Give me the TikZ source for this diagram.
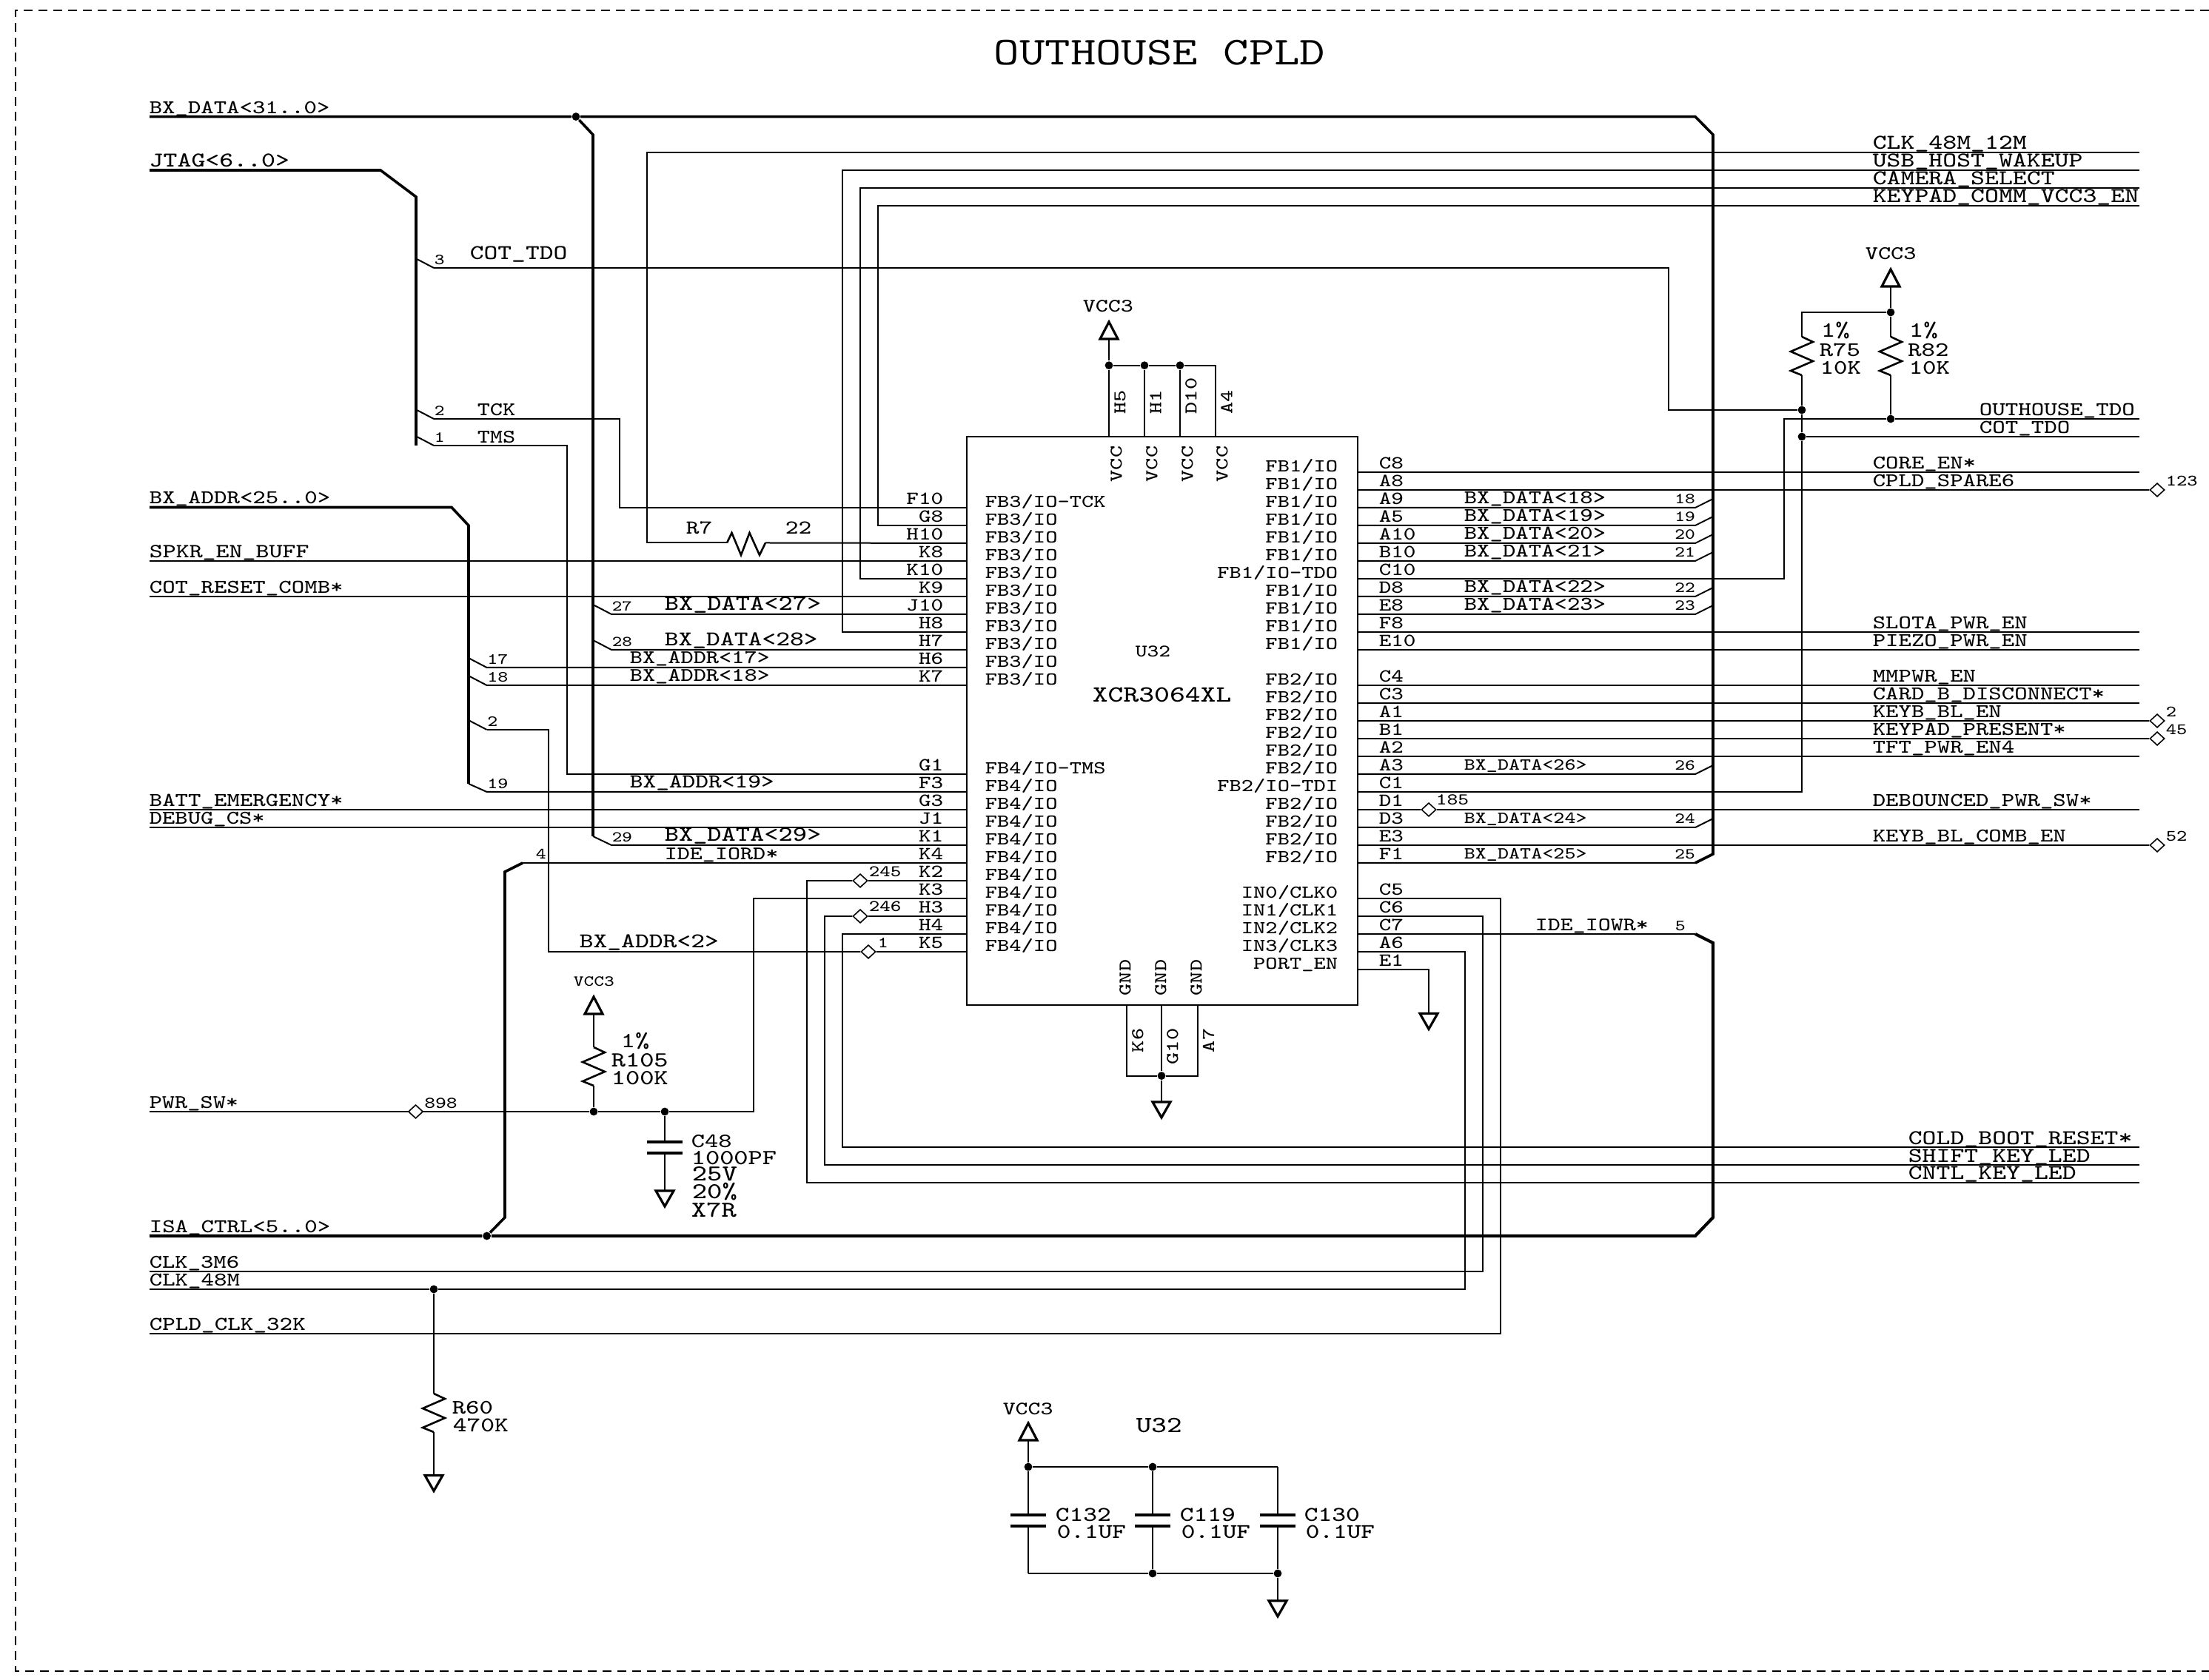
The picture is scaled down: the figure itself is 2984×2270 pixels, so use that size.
\documentclass[tikz,border=0pt]{standalone}
\usepackage{fontspec}
\setmonofont[FakeStretch=1.25]{Latin Modern Mono}
\usetikzlibrary{shapes.geometric}
\tikzset{
  wire/.style={line width=0.5bp},
  bus/.style={line width=0.9bp},
  sym/.style={line width=0.8bp},
  lab/.style={font=\fontsize{#1}{#1}\ttfamily, inner sep=0pt, anchor=base west},
  labr/.style={lab=#1, anchor=base east},
  labv/.style={lab=6.1, rotate=90, anchor=#1},
  jct/.style={circle, fill=black, inner sep=0pt, minimum size=2.7bp},
  probe/.style={diamond, draw, line width=0.4bp, fill=white, inner sep=0pt, minimum width=5bp, minimum height=4.6bp},
  chipbox/.style={draw, line width=0.5bp, inner sep=0pt, outer sep=0pt, minimum width=132bp, minimum height=191.875bp},
  gndsym/.pic={\draw[sym] (-12,0) -- (12,0) -- (0,21) -- cycle;},
  vccsym/.pic={\draw[sym] (-12,0) -- (12,0) -- (0,-23) -- cycle;},
  resv/.pic={\draw[line width=0.65bp] (0,0) -- (15,7) -- (-15,20) -- (15,33) -- (-15,46) -- (0,52);},
  resh/.pic={\draw[line width=0.65bp] (0,0) -- (6.5,-13.5) -- (19,16.5) -- (30.5,-13.5) -- (44,16.5) -- (52,0);},
  capv/.pic={\draw[line width=1bp] (-24,0) -- (24,0) (-24,14.5) -- (24,14.5);},
}
\begin{document}
\begin{tikzpicture}[x=0.25bp,y=-0.25bp]
  \useasboundingbox (0,0) rectangle (2984,2270);
  % Frame
  \coordinate (frTR) at (2984,14);
  \coordinate (frTL) at (21,14);
  \coordinate (frBL) at (21,2258);
  \coordinate (frBR) at (2984,2258);
  \draw[wire, dash pattern=on 3bp off 2bp] (frTR) -- (frTL) -- (frBL) -- (frBR);
  \node[lab=13.42] (title) at (1342,88) {OUTHOUSE CPLD};
  %% Chip U32
  \node[chipbox] (chip) at (1570,973.75) {};
  \node[lab=5.97] (chipRef) at (1533,888) {U32};
  \node[lab=7.88] (chipType) at (1475,949) {XCR3064XL};
  % Pins, left side
  \foreach \pin [count=\i from 0] in {F10,G8,H10,K8,K10,K9,J10,H8,H7,H6,K7} {
    \coordinate (\pin) at (1306,{686+24*\i});
    \node[labr=6.27] (p\pin) at (1275,{682+24*\i}) {\pin};
    \node[lab=6.16] (f\pin) at (1330,{686+24*\i}) {FB3/IO\ifnum\i=0 -TCK\fi};
  }
  \foreach \pin [count=\i from 0] in {G1,F3,G3,J1,K1,K4,K2,K3,H3,H4,K5} {
    \coordinate (\pin) at (1306,{1046+24*\i});
    \node[labr=6.27] (p\pin) at (1275,{1042+24*\i}) {\pin};
    \node[lab=6.16] (f\pin) at (1330,{1046+24*\i}) {FB4/IO\ifnum\i=0 -TMS\fi};
  }
  % Pins, right side
  \foreach \pin [count=\i from 0] in {C8,A8,A9,A5,A10,B10,C10,D8,E8,F8,E10} {
    \coordinate (\pin) at (1834,{638+24*\i});
    \node[lab=6.27] (p\pin) at (1862,{634+24*\i}) {\pin};
    \node[labr=6.16] (f\pin) at (1808,{638+24*\i}) {FB1/IO\ifnum\i=6 -TDO\fi};
  }
  \foreach \pin [count=\i from 0] in {C4,C3,A1,B1,A2,A3,C1,D1,D3,E3,F1} {
    \coordinate (\pin) at (1834,{926+24*\i});
    \node[lab=6.27] (p\pin) at (1862,{922+24*\i}) {\pin};
    \node[labr=6.16] (f\pin) at (1808,{926+24*\i}) {FB2/IO\ifnum\i=6 -TDI\fi};
  }
  \foreach \pin [count=\i from 0] in {C5,C6,C7,A6} {
    \coordinate (\pin) at (1834,{1214+24*\i});
    \node[lab=6.27] (p\pin) at (1862,{1210+24*\i}) {\pin};
    \node[labr=6.16] (f\pin) at (1808,{1214+24*\i}) {IN\i/CLK\i};
  }
  \coordinate (E1) at (1834,1310);
  \node[lab=6.27] (pE1) at (1862,1306) {E1};
  \node[labr=6.16] (fE1) at (1808,1310) {PORT\_EN};
  % Power pins
  \foreach \pin/\px/\tx in {H5/1498/1508,H1/1546/1556,D10/1594/1604,A4/1642/1651} {
    \coordinate (\pin) at (\px,590);
    \node[labv=center] (f\pin) at (\tx,627) {VCC};
    \node[labv=west] (p\pin) at ({\px+15},560) {\pin};
  }
  \foreach \pin/\px/\tx in {K6/1522/1520,G10/1569/1568,A7/1617.6/1616} {
    \coordinate (\pin) at (\px,1357.5);
    \node[labv=center] (f\pin) at (\tx,1321) {GND};
    \node[labv=east] (p\pin) at ({\px+15},1389) {\pin};
  }
  %% Anchor columns
  \coordinate (tapR) at (2290,0);
  \coordinate (tapA) at (657.6,0);
  \coordinate (tapD) at (826,0);
  \coordinate (txtR) at (2529,0);
  \coordinate (txtD) at (1977,0);
  \coordinate (numR) at (2261.5,0);
  \coordinate (prbR) at (2914,0);
  \coordinate (numP) at (2925,0);
  \coordinate (edgeR) at (2890,0);
  %% Nets on the left edge
  \foreach \nm/\yy/\txt/\sz in {BXD/157.6/BX\_DATA<31..0>/6.58,JTG/230/JTAG<6..0>/7.15,
      BXA/685.5/BX\_ADDR<25..0>/6.6,SPK/758/SPKR\_EN\_BUFF/6.8,COT/806/COT\_RESET\_COMB*/6.6,
      BAT/1094/BATT\_EMERGENCY*/6.6,DBG/1118/DEBUG\_CS*/6.55,PWR/1502/PWR\_SW*/6.5,
      ISA/1670/ISA\_CTRL<5..0>/6.6,CM/1718/CLK\_3M6/6.55,CH/1742/CLK\_48M/6.6,
      CK/1801.6/CPLD\_CLK\_32K/6.65} {
    \coordinate (l\nm) at (202,\yy);
    \node[lab=\sz] (n\nm) at (201,{\yy-4.5}) {\txt};
  }
  %% Nets on the right edge, routed ones
  \foreach \nm/\yy/\tx/\txt/\sz in {CLK/206/2529/CLK\_48M\_12M/7.15,USB/230/2529/USB\_HOST\_WAKEUP/7.15,
      CAM/254/2529/CAMERA\_SELECT/7.15,KPD/278/2529/KEYPAD\_COMM\_VCC3\_EN/7.15,
      OUT/566/2673/OUTHOUSE\_TDO/6.62,CTD/590/2673/COT\_TDO/6.62,
      CLD/1550/2577/COLD\_BOOT\_RESET*/7.15,SHF/1574/2577/SHIFT\_KEY\_LED/7.15,CNT/1597.5/2577/CNTL\_KEY\_LED/7.15} {
    \coordinate (r\nm) at (2890,\yy);
    \node[lab=\sz] (n\nm) at (\tx,{\yy-4}) {\txt};
  }
  %% Pin to edge, straight
  \foreach \pin/\txt in {C8/CORE\_EN*,F8/SLOTA\_PWR\_EN,E10/PIEZO\_PWR\_EN,C4/MMPWR\_EN,
      C3/CARD\_B\_DISCONNECT*,A2/TFT\_PWR\_EN4} {
    \draw[wire] (\pin) -- (\pin -| edgeR);
    \path (\pin -| txtR) ++(0,-4) node[lab=6.58] (n\pin) {\txt};
  }
  % Pin to test point at the edge
  \foreach \pin/\txt/\num in {A8/CPLD\_SPARE6/123,A1/KEYB\_BL\_EN/2,B1/KEYPAD\_PRESENT*/45,E3/KEYB\_BL\_COMB\_EN/52} {
    \node[probe] (d\num) at (\pin -| prbR) {};
    \draw[wire] (\pin) -- (d\num);
    \path (\pin -| txtR) ++(0,-4) node[lab=6.58] (n\pin) {\txt};
    \path (\pin -| numP) ++(0,-5) node[lab=5.4] (t\num) {\num};
  }
  % Data bus taps on the right
  \foreach \pin/\num/\sz in {A9/18/6.58,A5/19/6.58,A10/20/6.58,B10/21/6.58,D8/22/6.58,E8/23/6.58,
      A3/26/5.7,D3/24/5.7,F1/25/5.7} {
    \draw[wire] (\pin) -- (\pin -| tapR) -- ++(24,-12);
    \path (\pin -| txtD) ++(0,-5) node[lab=\sz] (n\pin) {BX\_DATA<\num>};
    \path (\pin -| numR) ++(0,-5) node[lab=5.2] (t\num) {\num};
  }
  % Address bus taps
  \foreach \pin/\num in {H6/17,K7/18} {
    \draw[wire] (\pin) -- (\pin -| tapA) -- ++(-23,-12);
    \path (\pin -| tapA) ++(0,-4) node[lab=5.3] (t\num) {\num};
    \node[lab=6.5] (n\pin) at (850,{\num*24+489}) {BX\_ADDR<\num>};
  }
  % Data bus taps on the left
  \foreach \pin/\num/\sz in {J10/27/7.27,H7/28/7.11} {
    \draw[wire] (\pin) -- (\pin -| tapD) -- ++(-23,-12);
    \path (\pin -| tapD) ++(0,-4) node[lab=5.1] (t\num) {\num};
    \path (\pin) ++(-409,-5) node[lab=\sz] (n\pin) {BX\_DATA<\num>};
  }
  %% Buses
  \node[jct] (jBXD) at (778,157.6) {};
  \coordinate (bR1) at (2290,157.6);
  \coordinate (bR2) at (2314,182);
  \coordinate (bR3) at (2314,1154);
  \draw[bus] (lBXD) -- (jBXD) -- (bR1) -- (bR2) -- (bR3) -- (F1 -| tapR);
  \coordinate (bD1) at (801,182);
  \coordinate (bD2) at (801,1130);
  \coordinate (bD3) at (826,1142);
  \draw[bus] (jBXD) -- (bD1) -- (bD2);
  \draw[wire] (bD2) -- (bD3) -- (K1);
  \node[lab=5.1] (t29) at (826,1138) {29};
  \node[lab=7.27] (nK1) at (897,1137) {BX\_DATA<29>};
  % JTAG
  \coordinate (bJ1) at (514,230);
  \coordinate (bJ2) at (562,266);
  \coordinate (bJ3) at (562,602);
  \draw[bus] (lJTG) -- (bJ1) -- (bJ2) -- (bJ3);
  \coordinate (tJ3) at (586,362);
  \coordinate (tJ2) at (586,566);
  \coordinate (tJ1) at (586,602);
  \draw[wire] (tJ3) -- ++(-23,-12);
  \draw[wire] (tJ2) -- ++(-23,-12);
  \draw[wire] (tJ1) -- ++(-23,-12);
  \node[lab=5.2] (t3) at (586,358) {3};
  \node[lab=5.2] (tTCKn) at (586,562) {2};
  \node[lab=5.2] (tTMSn) at (586,598) {1};
  \node[lab=7.11] (nCOTL) at (634,351) {COT\_TDO};
  \node[lab=6.5] (nTCK) at (644,562) {TCK};
  \node[lab=6.5] (nTMS) at (644,599) {TMS};
  \coordinate (aTCK) at (837,566);
  \coordinate (aTMS) at (766,602);
  \draw[wire] (tJ2) -- (aTCK) |- (F10);
  \draw[wire] (tJ1) -- (aTMS) |- (G1);
  % BX_ADDR
  \coordinate (bA1) at (610,685.5);
  \coordinate (bA2) at (633,710);
  \coordinate (bA3) at (633,1059);
  \coordinate (bA4) at (657.6,1070);
  \draw[bus] (lBXA) -- (bA1) -- (bA2) -- (bA3);
  \draw[wire] (bA3) -- (bA4) -- (F3);
  \node[lab=5.3] (t19) at (657.6,1066) {19};
  \node[lab=6.7] (nF3) at (850,1065) {BX\_ADDR<19>};
  \coordinate (tA2) at (657.6,986);
  \coordinate (aA2) at (741,986);
  \node[probe] (d1) at (1173,1286) {};
  \draw[wire] (tA2) -- ++(-23,-12);
  \draw[wire] (tA2) -- (aA2) |- (d1) -- (K5);
  \node[lab=5.3] (t2) at (657.6,982) {2};
  \node[lab=5.3] (tK5) at (1185,1281) {1};
  \node[lab=7.11] (nK5) at (782,1281) {BX\_ADDR<2>};
  % ISA_CTRL
  \node[jct] (jISA) at (657.6,1670) {};
  \coordinate (bI1) at (2290,1670);
  \coordinate (bI2) at (2314,1645);
  \coordinate (bI3) at (2314,1274);
  \coordinate (bI4) at (2290,1262);
  \draw[line width=1.05bp] (lISA) -- (jISA) -- (bI1) -- (bI2) -- (bI3) -- (bI4);
  \draw[wire] (bI4) -- (C7);
  \node[lab=6.43] (nC7) at (2073,1258) {IDE\_IOWR*};
  \node[lab=5.3] (t5) at (2262,1258) {5};
  \coordinate (bI5) at (682,1645);
  \coordinate (bI6) at (682,1178);
  \coordinate (bI7) at (706,1166);
  \draw[bus] (jISA) -- (bI5) -- (bI6) -- (bI7);
  \draw[wire] (bI7) -- (K4);
  \node[lab=5.3] (t4) at (723,1161) {4};
  \node[lab=6.45] (nK4) at (897,1162) {IDE\_IORD*};
  %% Left nets into the chip
  \draw[wire] (lSPK) -- (K8);
  \draw[wire] (lCOT) -- (K9);
  \draw[wire] (lBAT) -- (G3);
  \draw[wire] (lDBG) -- (J1);
  % Nets from the top right into the left side
  \coordinate (aCLK) at (874,206);
  \coordinate (R7a) at (982,733.5);
  \coordinate (R7b) at (1034,733.5);
  \draw[wire] (rCLK) -- (aCLK) |- (R7a);
  \pic at (R7a) {resh};
  \draw[wire] (R7b) -- (H10);
  \node[lab=6.7] (nR7) at (926,722) {R7};
  \node[lab=6.7] (vR7) at (1060,722) {22};
  \coordinate (aUSB) at (1138,230);
  \coordinate (aCAM) at (1162,254);
  \coordinate (aKPD) at (1186,278);
  \draw[wire] (rUSB) -- (aUSB) |- (H8);
  \draw[wire] (rCAM) -- (aCAM) |- (K10);
  \draw[wire] (rKPD) -- (aKPD) |- (G8);
  %% TDO, TDI with pull ups
  \node[jct] (jVCC) at (2554,422) {};
  \node[jct] (jOUT) at (2554,566) {};
  \node[jct] (jTDO) at (2434,554) {};
  \node[jct] (jTDI) at (2434,590) {};
  \coordinate (vR) at (2554,387);
  \coordinate (cR75) at (2434,422);
  \coordinate (R75a) at (2434,455);
  \coordinate (R75b) at (2434,507);
  \coordinate (R82a) at (2554,455);
  \coordinate (R82b) at (2554,507);
  \coordinate (aC10) at (2410,782);
  \coordinate (aC1) at (2434,1070);
  \coordinate (aCOT) at (2254,362);
  \pic at (vR) {vccsym};
  \node[lab=6.5] (tVR) at (2519,351) {VCC3};
  \draw[wire] (vR) -- (jVCC) -- (cR75) -- (R75a);
  \pic at (R75a) {resv};
  \draw[wire] (jVCC) -- (R82a);
  \pic at (R82a) {resv};
  \draw[wire] (R75b) -- (jTDO) -- (jTDI) -- (aC1) -- (C1);
  \draw[wire] (R82b) -- (jOUT);
  \draw[wire] (C10) -- (aC10) |- (jOUT) -- (rOUT);
  \draw[wire] (jTDI) -- (rCTD);
  \draw[wire] (tJ3) -- (aCOT) |- (jTDO);
  \node[lab=7.4] (pR75) at (2459,456) {1\%};
  \node[lab=6.96] (nR75) at (2457,482) {R75};
  \node[lab=6.96] (vR75) at (2458,506) {10K};
  \node[lab=7.4] (pR82) at (2578,456) {1\%};
  \node[lab=6.96] (nR82) at (2576.5,482) {R82};
  \node[lab=6.96] (vR82) at (2578,506) {10K};
  % D1
  \node[probe] (d185) at (1930,1094) {};
  \draw[wire] (D1) -- (d185) -- (D1 -| edgeR);
  \node[lab=5.6] (t185) at (1939,1088) {185};
  \path (D1 -| txtR) ++(0,-4) node[lab=6.58] (nD1) {DEBOUNCED\_PWR\_SW*};
  %% Chip power
  \node[jct] (jH5) at (1498,493.7) {};
  \node[jct] (jH1) at (1546,493.7) {};
  \node[jct] (jD10) at (1594,493.7) {};
  \coordinate (cA4) at (1642,493.7);
  \coordinate (vU) at (1498,458);
  \pic at (vU) {vccsym};
  \node[lab=6.45] (tVU) at (1462,422) {VCC3};
  \draw[wire] (vU) -- (jH5) -- (H5);
  \draw[wire] (jH5) -- (jH1) -- (jD10) -- (cA4) -- (A4);
  \draw[wire] (jH1) -- (H1);
  \draw[wire] (jD10) -- (D10);
  \coordinate (cK6) at (1522,1453.6);
  \node[jct] (jG10) at (1569,1453.6) {};
  \coordinate (cA7) at (1617.6,1453.6);
  \coordinate (gU) at (1569,1489);
  \draw[wire] (K6) -- (cK6) -- (jG10) -- (cA7) -- (A7);
  \draw[wire] (G10) -- (jG10) -- (gU);
  \pic at (gU) {gndsym};
  \coordinate (aE1) at (1930,1310);
  \coordinate (gE1) at (1930,1369.4);
  \draw[wire] (E1) -- (aE1) -- (gE1);
  \pic at (gE1) {gndsym};
  %% Left side lines going to bottom right
  \node[probe] (d245) at (1162,1190) {};
  \node[probe] (d246) at (1162,1238) {};
  \coordinate (aK2) at (1090,1190);
  \coordinate (aH3) at (1114,1238);
  \coordinate (aH4) at (1138,1262);
  \draw[wire] (K2) -- (d245) -- (aK2) |- (rCNT);
  \draw[wire] (H3) -- (d246) -- (aH3) |- (rSHF);
  \draw[wire] (H4) -- (aH4) |- (rCLD);
  \node[lab=5.5] (t245) at (1173,1185) {245};
  \node[lab=5.5] (t246) at (1173,1232) {246};
  %% PWR_SW
  \node[probe] (d898) at (561.5,1502) {};
  \node[jct] (j802) at (802,1502) {};
  \node[jct] (j898) at (898,1502) {};
  \coordinate (aK3) at (1018,1214);
  \draw[wire] (K3) -- (aK3) |- (j898) -- (j802) -- (d898) -- (lPWR);
  \node[lab=5.6] (t898) at (572.5,1497) {898};
  \coordinate (v105) at (802,1370);
  \coordinate (R105a) at (802,1415);
  \coordinate (R105b) at (802,1467);
  \pic at (v105) {vccsym};
  \node[lab=5.2] (tV105) at (774,1333) {VCC3};
  \draw[wire] (v105) -- (R105a);
  \pic at (R105a) {resv};
  \draw[wire] (R105b) -- (j802);
  \node[lab=7.27] (pR105) at (838,1416) {1\%};
  \node[lab=7.27] (nR105) at (825,1442) {R105};
  \node[lab=7.27] (vR105) at (825,1466) {100K};
  \coordinate (C48a) at (898,1543);
  \coordinate (C48b) at (898,1557.5);
  \coordinate (g48) at (898,1609);
  \draw[wire] (j898) -- (C48a);
  \pic at (C48a) {capv};
  \draw[wire] (C48b) -- (g48);
  \pic at (g48) {gndsym};
  \node[lab=6.9] (nC48) at (933,1550) {C48};
  \node[lab=7.27] (vC48) at (933,1573) {1000PF};
  \node[lab=7.7] (uC48) at (934,1596) {25V};
  \node[lab=7.7] (eC48) at (934,1620) {20\%};
  \node[lab=7.7] (mC48) at (933,1644) {X7R};
  %% Clocks
  \coordinate (aC5) at (2026.6,1214);
  \coordinate (aC6) at (2002.6,1238);
  \coordinate (aA6) at (1978.5,1286);
  \node[jct] (j48M) at (586,1742) {};
  \draw[wire] (C5) -- (aC5) |- (lCK);
  \draw[wire] (C6) -- (aC6) |- (lCM);
  \draw[wire] (A6) -- (aA6) |- (j48M) -- (lCH);
  \coordinate (R60a) at (586,1883);
  \coordinate (R60b) at (586,1935);
  \coordinate (g60) at (586,1993.5);
  \draw[wire] (j48M) -- (R60a);
  \pic at (R60a) {resv};
  \draw[wire] (R60b) -- (g60);
  \pic at (g60) {gndsym};
  \node[lab=6.96] (nR60) at (610,1910) {R60};
  \node[lab=7.1] (vR60) at (611,1934) {470K};
  %% Decoupling
  \node[lab=7.8] (tDec) at (1534,1935) {U32};
  \coordinate (vB) at (1389,1946);
  \pic at (vB) {vccsym};
  \node[lab=6.4] (tVB) at (1354,1911) {VCC3};
  \node[jct] (jC1) at (1389,1982) {};
  \node[jct] (jC2) at (1557,1982) {};
  \coordinate (cC3) at (1726,1982);
  \coordinate (cC4) at (1389,2126);
  \node[jct] (jC5) at (1557,2126) {};
  \node[jct] (jC6) at (1726,2126) {};
  \coordinate (gB) at (1726,2163);
  \draw[wire] (vB) -- (jC1) -- (jC2) -- (cC3);
  \draw[wire] (cC4) -- (jC5) -- (jC6) -- (gB);
  \pic at (gB) {gndsym};
  \foreach \cn/\top/\bot/\px/\tx in {C132/jC1/cC4/1389/1425,C119/jC2/jC5/1557/1593,C130/cC3/jC6/1726/1761} {
    \coordinate (\cn a) at (\px,2047);
    \coordinate (\cn b) at (\px,2061.5);
    \draw[wire] (\top) -- (\cn a);
    \pic at (\cn a) {capv};
    \draw[wire] (\cn b) -- (\bot);
    \node[lab=7.1] (n\cn) at (\tx,2055) {\cn};
    \node[lab=7.05] (v\cn) at ({\tx+2},2078) {0.1UF};
  }
\end{tikzpicture}
\end{document}
